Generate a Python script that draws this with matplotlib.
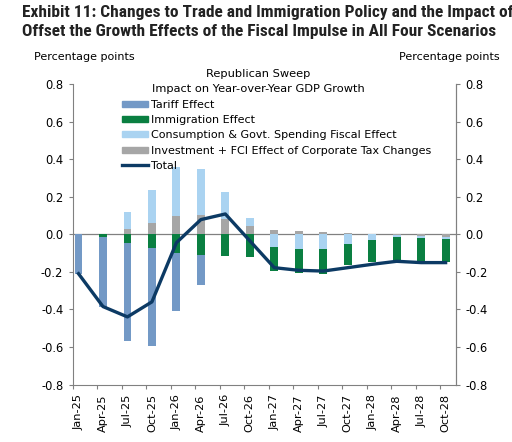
import matplotlib.pyplot as plt
import numpy as np
from matplotlib.patches import Patch
from matplotlib.lines import Line2D

# datos (puntos porcentuales)
fechas = ['Jan-25', 'Apr-25', 'Jul-25', 'Oct-25', 'Jan-26', 'Apr-26', 'Jul-26', 'Oct-26',
          'Jan-27', 'Apr-27', 'Jul-27', 'Oct-27', 'Jan-28', 'Apr-28', 'Jul-28', 'Oct-28']
tariff = [-0.21, -0.375, -0.525, -0.523, -0.312, -0.16, 0.0, 0.0,
          0.0, 0.0, 0.0, 0.0, 0.0, 0.0, 0.0, 0.0]
immigration = [0.0, -0.013, -0.044, -0.072, -0.098, -0.108, -0.116, -0.12,
               -0.124, -0.126, -0.13, -0.11, -0.117, -0.124, -0.128, -0.123]
consumption = [0.0, 0.0, 0.09, 0.173, 0.26, 0.242, 0.143, 0.043,
               -0.07, -0.08, -0.08, -0.052, -0.03, -0.012, -0.01, -0.013]
investment = [0.0, 0.0, 0.03, 0.062, 0.097, 0.105, 0.08, 0.045,
              0.022, 0.018, 0.012, 0.005, 0.0, -0.004, -0.01, -0.012]
total = [-0.21, -0.385, -0.44, -0.36, -0.045, 0.078, 0.108, -0.035,
         -0.178, -0.192, -0.196, -0.178, -0.16, -0.144, -0.151, -0.151]

nombres = ['Tariff Effect', 'Immigration Effect',
           'Consumption & Govt. Spending Fiscal Effect',
           'Investment + FCI Effect of Corporate Tax Changes', 'Total']
colores = {'tariff': '#7399C6', 'immig': '#0A7F41', 'cons': '#AAD3F1',
           'inv': '#A6A6A6', 'total': '#0C3A64'}

fig = plt.figure(figsize=(5.12, 4.42), dpi=100)
ax = fig.add_axes([73 / 512, 1 - 384.5 / 442, 383 / 512, 300.5 / 442])

x = np.arange(len(fechas)) + 0.225  # centro de cada barra
w = 0.32

# barras apiladas: positivas hacia arriba, negativas hacia abajo (orden de Excel)
arriba = np.zeros(len(fechas))
abajo = np.zeros(len(fechas))
for serie, c in [(investment, colores['inv']), (consumption, colores['cons']),
                 (immigration, colores['immig']), (tariff, colores['tariff'])]:
    v = np.array(serie)
    base = np.where(v >= 0, arriba, abajo)
    ax.bar(x, v, w, bottom=base, color=c, linewidth=0, zorder=2)
    arriba = arriba + np.where(v > 0, v, 0)
    abajo = abajo + np.where(v < 0, v, 0)

ax.plot(x, total, color=colores['total'], lw=2.4, zorder=3)
ax.axhline(0, color='#808080', lw=0.9, zorder=1)

ax.set_xlim(0, 15.65)
ax.set_ylim(-0.8, 0.8)
yt = np.round(np.arange(-0.8, 0.81, 0.2), 1)
etiq_y = ['%.1f' % (v + 0.0) for v in yt]
ax.set_yticks(yt)
ax.set_yticklabels(etiq_y, fontsize=8.3)
ax.tick_params(axis='y', length=3, width=0.8, color='#808080', pad=4)

# marcas en los limites de cada trimestre, etiquetas en el centro de la barra
ax.set_xticks(np.arange(len(fechas)))
ax.set_xticklabels([])
ax.set_xticks(x, minor=True)
ax.set_xticklabels(fechas, minor=True, rotation=90, fontsize=8.2)
ax.tick_params(axis='x', which='major', length=3, width=0.8, color='#808080')
ax.tick_params(axis='x', which='minor', length=0, pad=7)

for s in ['left', 'bottom', 'right']:
    ax.spines[s].set_color('#808080')
    ax.spines[s].set_linewidth(0.8)
ax.spines['top'].set_visible(False)

ax2 = ax.twinx()
ax2.set_ylim(-0.8, 0.8)
ax2.set_yticks(yt)
ax2.set_yticklabels(etiq_y, fontsize=8.3)
ax2.tick_params(axis='y', length=3, width=0.8, color='#808080', pad=4)
for s in ['left', 'bottom', 'top']:
    ax2.spines[s].set_visible(False)
ax2.spines['right'].set_color('#808080')
ax2.spines['right'].set_linewidth(0.8)

# leyenda
handles = [Patch(color=colores['tariff']), Patch(color=colores['immig']),
           Patch(color=colores['cons']), Patch(color=colores['inv']),
           Line2D([], [], color=colores['total'], lw=2.4)]
ax.legend(handles, nombres, loc='upper left', bbox_to_anchor=(122 / 512, 1 - 99.5 / 442),
          bbox_transform=fig.transFigure, frameon=False, fontsize=8,
          handlelength=2.3, handleheight=0.45, handletextpad=0.35,
          labelspacing=0.48, borderpad=0, borderaxespad=0)

fig.text(258 / 512, 1 - 74 / 442, 'Republican Sweep', ha='center', va='center', fontsize=8.2)
fig.text(258 / 512, 1 - 89 / 442, 'Impact on Year-over-Year GDP Growth',
         ha='center', va='center', fontsize=8.2)

fig.text(34 / 512, 1 - 57 / 442, 'Percentage points', ha='left', va='center', fontsize=8)
fig.text(500 / 512, 1 - 57 / 442, 'Percentage points', ha='right', va='center', fontsize=8)

# titulo en fuente estrecha; se ajusta el tamaño para que ocupe el ancho del original
fam = ['Roboto Condensed', 'Liberation Sans Narrow', 'DejaVu Sans Condensed', 'Liberation Sans']
t1 = fig.text(22 / 512, 1 - 12.5 / 442,
              'Exhibit 11: Changes to Trade and Immigration Policy and the Impact of',
              ha='left', va='center', fontsize=12, fontweight='bold', color='#222222',
              family=fam, fontstretch='condensed')
t2 = fig.text(22 / 512, 1 - 31.5 / 442,
              'Offset the Growth Effects of the Fiscal Impulse in All Four Scenarios',
              ha='left', va='center', fontsize=12, fontweight='bold', color='#222222',
              family=fam, fontstretch='condensed')
r = fig.canvas.get_renderer()
ancho = t2.get_window_extent(r).width
tam = min(12.5, 12 * 478 / ancho)
t1.set_fontsize(tam)
t2.set_fontsize(tam)

fig.savefig('out.png', dpi=100)
